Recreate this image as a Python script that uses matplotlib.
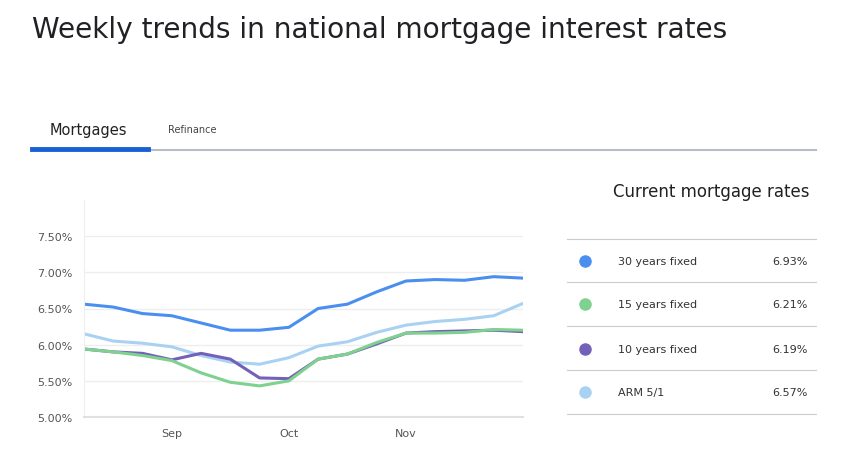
import matplotlib
matplotlib.use("Agg")
import matplotlib.pyplot as plt
from matplotlib.lines import Line2D

x_ticks = ["Sep", "Oct", "Nov"]
tick_idx = [3, 7, 11]
r30 = [6.56,6.52,6.43,6.40,6.30,6.20,6.20,6.24,6.50,6.56,6.73,6.88,6.90,6.89,6.94,6.92]
r15 = [5.94,5.90,5.85,5.78,5.61,5.48,5.43,5.50,5.80,5.87,6.03,6.16,6.16,6.17,6.21,6.20]
r10 = [5.94,5.90,5.88,5.79,5.88,5.80,5.54,5.53,5.80,5.87,6.01,6.16,6.18,6.19,6.20,6.18]
arm = [6.15,6.05,6.02,5.97,5.85,5.76,5.73,5.82,5.98,6.04,6.17,6.27,6.32,6.35,6.40,6.57]
names = ["30 years fixed", "15 years fixed", "10 years fixed", "ARM 5/1"]
current = ["6.93%", "6.21%", "6.19%", "6.57%"]
colors = ["#4a8ff0", "#7ed18f", "#7360b8", "#a9d2f2"]

fig = plt.figure(figsize=(8.55, 4.6), dpi=100)
fig.text(32/855, 1-30/460, "Weekly trends in national mortgage interest rates",
         fontsize=20.2, va="center", ha="left", color="#202124")
fig.text(50/855, 1-131/460, "Mortgages", fontsize=10.5, va="center", color="#202124")
fig.text(168/855, 1-130/460, "Refinance", fontsize=7, va="center", color="#444444")
fig.add_artist(Line2D([148/855, 816/855], [1-151/460]*2, color="#b8bcc8", lw=1.5))
fig.add_artist(Line2D([32/855, 148/855], [1-150/460]*2, color="#1a5fd6", lw=3.5))

ax = fig.add_axes([84/855, 1-418/460, (523-84)/855, (418-201)/460])
xs = list(range(len(r30)))
for data, c in [(arm, colors[3]), (r30, colors[0]), (r10, colors[2]), (r15, colors[1])]:
    ax.plot(xs, data, color=c, lw=2.2, solid_capstyle="round")
ax.set_xlim(0, len(r30)-1)
ax.set_ylim(5.0, 8.0)
ax.set_yticks([5.0, 5.5, 6.0, 6.5, 7.0, 7.5])
ax.set_yticklabels([f"{v:.2f}%" for v in [5.0, 5.5, 6.0, 6.5, 7.0, 7.5]])
ax.set_xticks(tick_idx)
ax.set_xticklabels(x_ticks)
ax.grid(axis="y", color="#eeeeee", lw=1)
for s in ["top", "right"]:
    ax.spines[s].set_visible(False)
ax.spines["left"].set_color("#eeeeee")
ax.spines["bottom"].set_color("#e0e0e0")
ax.spines["bottom"].set_linewidth(1.5)
ax.tick_params(length=0, labelsize=8, colors="#555555", pad=8)
ax.set_axisbelow(True)

fig.text(711/855, 1-192/460, "Current mortgage rates", fontsize=12, ha="center",
         va="center", color="#202124")
row_y = [262, 305, 350, 393]
sep_y = [240, 283, 327, 371, 415]
for yy in sep_y:
    fig.add_artist(Line2D([567/855, 816/855], [1-yy/460]*2, color="#cccccc", lw=0.8))
for yy, n, v, c in zip(row_y, names, current, colors):
    fig.add_artist(Line2D([585/855], [1-yy/460], marker="o", ms=8, color=c, lw=0))
    fig.text(618/855, 1-yy/460, n, fontsize=8, va="center", color="#333333")
    fig.text(808/855, 1-yy/460, v, fontsize=8, va="center", ha="right", color="#333333")

fig.savefig("out.png", dpi=100)
